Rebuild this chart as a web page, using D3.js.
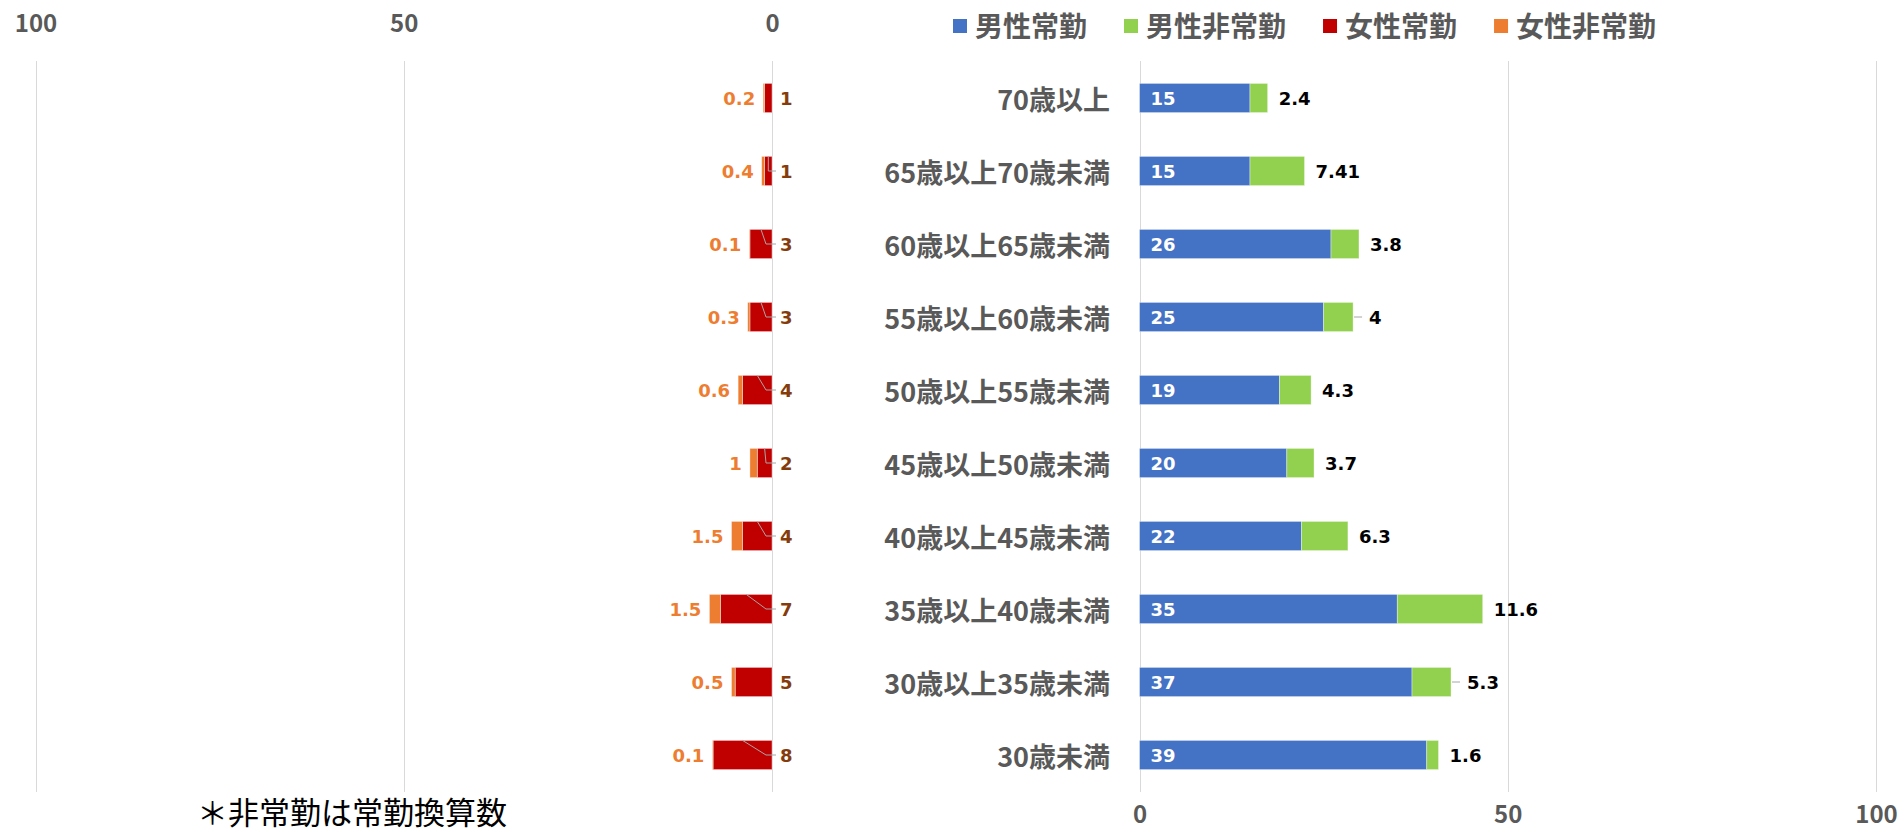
<!DOCTYPE html>
<html>
<head>
<meta charset="utf-8">
<script src="https://cdn.jsdelivr.net/npm/d3@7"></script>
<style>
  html, body { margin: 0; padding: 0; background: #fff; }
  svg { display: block; }
</style>
</head>
<body>
<svg id="chart" width="1901" height="835"></svg>
<script>
// ---- data ----
const categories = ["70歳以上", "65歳以上70歳未満", "60歳以上65歳未満", "55歳以上60歳未満", "50歳以上55歳未満",
                    "45歳以上50歳未満", "40歳以上45歳未満", "35歳以上40歳未満", "30歳以上35歳未満", "30歳未満"];
const maleRegular    = [15, 15, 26, 25, 19, 20, 22, 35, 37, 39];
const maleNonRegular = [2.4, 7.41, 3.8, 4, 4.3, 3.7, 6.3, 11.6, 5.3, 1.6];
const femaleRegular    = [1, 1, 3, 3, 4, 2, 4, 7, 5, 8];
const femaleNonRegular = [0.2, 0.4, 0.1, 0.3, 0.6, 1, 1.5, 1.5, 0.5, 0.1];
const femaleLeader = [false, true, true, true, true, true, true, true, false, true];
const maleLeader   = [false, false, false, true, false, false, false, false, true, false];
const seriesNames = ["男性常勤", "男性非常勤", "女性常勤", "女性非常勤"];
const tickValues = [0, 50, 100];
const footnote = "＊非常勤は常勤換算数";

// ---- styles ----
const colors = { "男性常勤": "#4472C4", "男性非常勤": "#92D050", "女性常勤": "#C00000", "女性非常勤": "#ED7D31" };
const grey = "#595959";
const cjk = "'Noto Sans CJK JP', 'Noto Sans', sans-serif";
const numFont = "'DejaVu Sans', sans-serif";

const rows = categories.map((c, i) => ({
  cat: c, mR: maleRegular[i], mN: maleNonRegular[i], fR: femaleRegular[i], fN: femaleNonRegular[i],
  fLead: femaleLeader[i], mLead: maleLeader[i]
}));

const svg = d3.select("#chart");

const y = d3.scaleBand().domain(categories).range([61.5, 791.5]).paddingInner(0.6).paddingOuter(0.3);
const xR = d3.scaleLinear().domain([0, 100]).range([1139.5, 1876]);
const xL = d3.scaleLinear().domain([0, 100]).range([772, 35.5]);

// gridlines
const grid = svg.append("g");
[xL, xR].forEach(sc => {
  grid.selectAll(null).data(tickValues).enter().append("line")
    .attr("x1", d => Math.round(sc(d)) + 0.5).attr("x2", d => Math.round(sc(d)) + 0.5)
    .attr("y1", 61).attr("y2", 792)
    .attr("stroke", "#D9D9D9").attr("stroke-width", 1);
});

// axes
const axTop = svg.append("g").attr("transform", "translate(0,35)")
  .call(d3.axisTop(xL).tickValues(tickValues).tickSize(0).tickFormat(d3.format("d")));
const axBot = svg.append("g").attr("transform", "translate(0,803)")
  .call(d3.axisBottom(xR).tickValues(tickValues).tickSize(0).tickFormat(d3.format("d")));
[axTop, axBot].forEach(a => {
  a.select(".domain").remove();
  a.selectAll("text").attr("fill", grey).style("font-family", cjk)
    .style("font-size", "24px").style("font-weight", "bold");
});

// stacks
const maleStack = d3.stack().keys(["mR", "mN"])(rows);
const femaleStack = d3.stack().keys(["fR", "fN"])(rows);
const keyName = { mR: "男性常勤", mN: "男性非常勤", fR: "女性常勤", fN: "女性非常勤" };

svg.append("g").selectAll("g").data(maleStack).enter().append("g")
  .attr("fill", d => colors[keyName[d.key]])
  .selectAll("rect").data(d => d).enter().append("rect")
  .attr("x", d => xR(d[0])).attr("width", d => xR(d[1]) - xR(d[0]))
  .attr("y", d => y(d.data.cat)).attr("height", y.bandwidth())
  .attr("stroke", "#fff").attr("stroke-opacity", 0.5).attr("stroke-width", 0.75);

svg.append("g").selectAll("g").data(femaleStack).enter().append("g")
  .attr("fill", d => colors[keyName[d.key]])
  .selectAll("rect").data(d => d).enter().append("rect")
  .attr("x", d => xL(d[1])).attr("width", d => xL(d[0]) - xL(d[1]))
  .attr("y", d => y(d.data.cat)).attr("height", y.bandwidth())
  .attr("stroke", "#fff").attr("stroke-opacity", 0.5).attr("stroke-width", 0.75);

const cy = d => y(d.cat) + y.bandwidth() / 2;
const labelStyle = sel => sel.style("font-family", numFont).style("font-size", "18px")
  .style("font-weight", "bold").attr("dominant-baseline", "central");

// male labels
labelStyle(svg.append("g").selectAll("text").data(rows).enter().append("text")
  .attr("x", xR(0) + 11).attr("y", cy).attr("fill", "#fff").text(d => d.mR));
labelStyle(svg.append("g").selectAll("text").data(rows).enter().append("text")
  .attr("x", d => xR(d.mR + d.mN) + (d.mLead ? 16 : 11)).attr("y", cy).attr("fill", "#000").text(d => d.mN));
svg.append("g").selectAll("line").data(rows.filter(d => d.mLead)).enter().append("line")
  .attr("x1", d => xR(d.mR + d.mN) + 1).attr("x2", d => xR(d.mR + d.mN) + 9)
  .attr("y1", cy).attr("y2", cy).attr("stroke", "#A6A6A6").attr("stroke-width", 1);

// female leader lines
svg.append("g").selectAll("path").data(rows.filter(d => d.fLead)).enter().append("path")
  .attr("d", d => {
    const cx = xL(d.fR / 2);
    const ex = Math.max(cx, xL(0) - 6);
    return `M${cx},${y(d.cat)}L${ex},${cy(d)}L${xL(0) + 4},${cy(d)}`;
  })
  .attr("fill", "none").attr("stroke", "#A6A6A6").attr("stroke-width", 1);

// female labels
labelStyle(svg.append("g").selectAll("text").data(rows).enter().append("text")
  .attr("x", xL(0) + 8).attr("y", cy).attr("fill", "#843C0C").text(d => d.fR));
labelStyle(svg.append("g").selectAll("text").data(rows).enter().append("text")
  .attr("x", d => xL(d.fR + d.fN) - 8).attr("y", cy).attr("text-anchor", "end")
  .attr("fill", "#ED7D31").text(d => d.fN));

// category labels
svg.append("g").selectAll("text").data(rows).enter().append("text")
  .attr("x", 1110).attr("y", cy).attr("text-anchor", "end").attr("dominant-baseline", "central")
  .attr("fill", grey).style("font-family", cjk).style("font-size", "27px").style("font-weight", "bold")
  .text(d => d.cat);

// legend
const legend = svg.append("g");
let lx = 953;
seriesNames.forEach(name => {
  legend.append("rect").attr("x", lx).attr("y", 19).attr("width", 14).attr("height", 14).attr("fill", colors[name]);
  const t = legend.append("text").attr("x", lx + 22).attr("y", 25).attr("dominant-baseline", "central")
    .attr("fill", grey).style("font-family", cjk).style("font-size", "28px").style("font-weight", "bold")
    .text(name);
  lx += 22 + t.node().getComputedTextLength() + 37;
});

// footnote
svg.append("text").attr("x", 197).attr("y", 810).attr("dominant-baseline", "central")
  .attr("fill", "#000").style("font-family", cjk).style("font-size", "31px")
  .text(footnote);
</script>
</body>
</html>
